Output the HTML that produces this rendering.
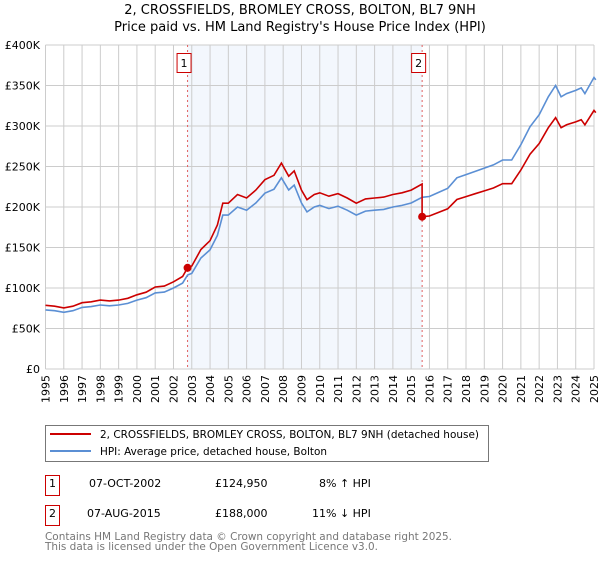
<!DOCTYPE html>
<html><head><meta charset="utf-8"><style>
body{margin:0;background:#fff;width:600px;height:560px;overflow:hidden;font-family:"DejaVu Sans","Liberation Sans",sans-serif;}
svg text{font-family:"DejaVu Sans","Liberation Sans",sans-serif;}
</style></head><body>
<svg id="chart" width="600" height="560" viewBox="0 0 600 560" xmlns="http://www.w3.org/2000/svg">
<text x="300" y="14" text-anchor="middle" font-size="13" fill="#000">2, CROSSFIELDS, BROMLEY CROSS, BOLTON, BL7 9NH</text>
<text x="300" y="31" text-anchor="middle" font-size="13" fill="#000">Price paid vs. HM Land Registry's House Price Index (HPI)</text>
<g id="plot"></g>
<g>
<rect x="45.5" y="425.5" width="443" height="36" fill="#fff" stroke="#777"/>
<line x1="50" y1="434" x2="91" y2="434" stroke="#cc0000" stroke-width="2"/>
<text x="100" y="438" font-size="11" textLength="379" lengthAdjust="spacingAndGlyphs">2, CROSSFIELDS, BROMLEY CROSS, BOLTON, BL7 9NH (detached house)</text>
<line x1="50" y1="451" x2="91" y2="451" stroke="#5b8fd4" stroke-width="2"/>
<text x="100" y="455" font-size="11" textLength="227" lengthAdjust="spacingAndGlyphs">HPI: Average price, detached house, Bolton</text>
</g>
<g font-size="11">
<rect x="45.5" y="475.5" width="14" height="20" fill="#fff" stroke="#cc0000"/>
<text x="52.5" y="487" text-anchor="middle">1</text>
<text x="89" y="487">07-OCT-2002</text><text x="215" y="487">£124,950</text><text x="319" y="487">8% ↑ HPI</text>
<rect x="45.5" y="505.5" width="14" height="20" fill="#fff" stroke="#cc0000"/>
<text x="52.5" y="517" text-anchor="middle">2</text>
<text x="87" y="517">07-AUG-2015</text><text x="215" y="517">£188,000</text><text x="312" y="517">11% ↓ HPI</text>
</g>
<text x="45" y="540" font-size="11" fill="#777" textLength="407" lengthAdjust="spacingAndGlyphs">Contains HM Land Registry data © Crown copyright and database right 2025.</text>
<text x="45" y="550" font-size="11" fill="#777" textLength="333" lengthAdjust="spacingAndGlyphs">This data is licensed under the Open Government Licence v3.0.</text>
</svg>
<script>
const hpiYears=[1995,1995.5,1996,1996.5,1997,1997.5,1998,1998.5,1999,1999.5,2000,2000.5,2001,2001.5,2002,2002.5,2002.77,2003,2003.5,2004,2004.4,2004.7,2005,2005.5,2006,2006.5,2007,2007.5,2007.9,2008.3,2008.6,2009,2009.3,2009.7,2010,2010.5,2011,2011.5,2012,2012.5,2013,2013.5,2014,2014.5,2015,2015.6,2016,2016.5,2017,2017.5,2018,2018.5,2019,2019.5,2020,2020.5,2021,2021.5,2022,2022.5,2022.9,2023.2,2023.5,2024,2024.3,2024.5,2025,2025.1];
const hpiValues=[73000,72000,70000,72000,76000,77000,79000,78000,79000,81000,85000,88000,94000,95000,100000,106000,116000,118000,137000,147000,165000,190000,190000,200000,196000,205000,217000,222000,236000,221000,227000,205000,194000,200000,202000,198000,201000,196000,190000,195000,196000,197000,200000,202000,205000,212000,213000,218000,223000,236000,240000,244000,248000,252000,258000,258000,277000,299000,314000,336000,350000,336000,340000,344000,347000,340000,360000,357000];
const saleYears=[2002.77,2015.6];
const salePrices=[124950,188000];
const yTicks=[0,50000,100000,150000,200000,250000,300000,350000,400000];
const yTickLabels=["£0","£50K","£100K","£150K","£200K","£250K","£300K","£350K","£400K"];
const xTicks=[1995,1996,1997,1998,1999,2000,2001,2002,2003,2004,2005,2006,2007,2008,2009,2010,2011,2012,2013,2014,2015,2016,2017,2018,2019,2020,2021,2022,2023,2024,2025];

const X0=45.5,X1=594,Y0=369,Y1=45;
const xs=t=>X0+(t-1995)/30*(X1-X0);
const ys=v=>Y0-v/400000*(Y0-Y1);
const NS='http://www.w3.org/2000/svg';
const g=document.getElementById('plot');
function mk(tag,attrs){const e=document.createElementNS(NS,tag);for(const k in attrs)e.setAttribute(k,attrs[k]);g.appendChild(e);return e;}
function hpiAt(t){for(let i=0;i<hpiYears.length-1;i++){if(t>=hpiYears[i]&&t<=hpiYears[i+1]){const f=(t-hpiYears[i])/(hpiYears[i+1]-hpiYears[i]);return hpiValues[i]+f*(hpiValues[i+1]-hpiValues[i]);}}return hpiValues[hpiValues.length-1];}

const shade=mk('rect',{x:xs(saleYears[0]),y:Y1,width:xs(saleYears[1])-xs(saleYears[0]),height:Y0-Y1,fill:'#eef3fc',opacity:0.7});


yTicks.forEach((v,i)=>{
  const l=mk('line',{x1:X0,x2:X1,y1:ys(v),y2:ys(v),stroke:'#cccccc','stroke-width':1});
  
  
  const t=mk('text',{x:40,y:ys(v)+4,'text-anchor':'end','font-size':11});
  t.textContent=yTickLabels[i];
  
  
});
xTicks.forEach(yr=>{
  const l=mk('line',{x1:xs(yr),x2:xs(yr),y1:Y1,y2:Y0,stroke:'#cccccc','stroke-width':1});
  
  
  const x=xs(yr)+4,y=375;
  const t=mk('text',{x:x,y:y,'text-anchor':'end','font-size':11,transform:'rotate(-90 '+x+' '+y+')'});
  t.textContent=yr;
  
  
});
saleYears.forEach((yr,i)=>{
  const l=mk('line',{x1:xs(yr),x2:xs(yr),y1:Y1,y2:Y0,stroke:'#e06060','stroke-width':1,'stroke-dasharray':'2,3'});
  
  
});
const hp=hpiYears.map((t,i)=>(i?'L':'M')+xs(t).toFixed(1)+','+ys(hpiValues[i]).toFixed(1)).join('');
const hl=mk('path',{d:hp,fill:'none',stroke:'#5b8fd4','stroke-width':1.6});


const h1=hpiAt(saleYears[0]),h2=hpiAt(saleYears[1]);
let pts=[];
hpiYears.forEach((t,i)=>{if(t<saleYears[1])pts.push([t,hpiValues[i]*salePrices[0]/h1]);});
pts.push([saleYears[1],h2*salePrices[0]/h1]);
pts.push([saleYears[1],salePrices[1]]);
hpiYears.forEach((t,i)=>{if(t>saleYears[1])pts.push([t,hpiValues[i]*salePrices[1]/h2]);});
const rp=pts.map((p,i)=>(i?'L':'M')+xs(p[0]).toFixed(1)+','+ys(p[1]).toFixed(1)).join('');
const rl=mk('path',{d:rp,fill:'none',stroke:'#cc0000','stroke-width':1.6});


saleYears.forEach((yr,i)=>{
  const c=mk('circle',{cx:xs(yr),cy:ys(salePrices[i]),r:4,fill:'#cc0000'});
  
  
  const bx=mk('rect',{x:xs(yr)-10.5,y:53.5,width:14,height:19,fill:'#fff',stroke:'#cc0000'});
  
  
  const t=mk('text',{x:xs(yr)-3.5,y:67,'text-anchor':'middle','font-size':11});
  t.textContent=String(i+1);
  
  
});
</script>
</body></html>
